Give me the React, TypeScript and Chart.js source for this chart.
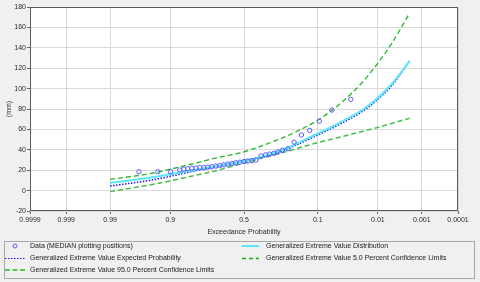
import React, { useEffect, useRef } from 'react';
import { Chart, registerables, LinearScale } from 'chart.js';

// ---------------- data ----------------
const X_TICK_VALUES = [0.9999, 0.999, 0.99, 0.9, 0.5, 0.1, 0.01, 0.001, 0.0001];
const X_TICK_LABELS = ['0.9999', '0.999', '0.99', '0.9', '0.5', '0.1', '0.01', '0.001', '0.0001'];
const Y_MIN = -20;
const Y_MAX = 180;
const Y_STEP = 20;

const CURVE_PROBS = [0.99, 0.95, 0.9, 0.8, 0.7, 0.5, 0.3, 0.2, 0.1, 0.05, 0.02, 0.01, 0.005, 0.002];
const GEV_DISTRIBUTION = [7.5, 12.5, 16, 20.5, 23.5, 29, 37, 44, 56, 66, 79, 91, 105, 127];
const GEV_EXPECTED = [4.5, 10, 14, 19.5, 23, 29, 36, 43, 54.5, 64.5, 77.5, 89.5, 103.5, 127];
const GEV_CONF_05 = [11, 16.5, 21, 27, 31.5, 38, 48.5, 56, 69, 84, 106, 125, 145, 174];
const GEV_CONF_95 = [-1, 5.5, 9.5, 15, 19, 27, 35, 40, 47, 52, 58, 62, 66, 71];

const DATA_PROBS = [0.966, 0.933, 0.899, 0.868, 0.852, 0.836, 0.818, 0.799, 0.779, 0.758, 0.736, 0.712,
  0.688, 0.663, 0.637, 0.611, 0.584, 0.557, 0.529, 0.5, 0.474, 0.446, 0.419, 0.384, 0.354, 0.329,
  0.302, 0.278, 0.253, 0.223, 0.192, 0.159, 0.127, 0.0955, 0.0634, 0.0317];
const DATA_VALUES = [18.5, 18.5, 18.5, 20.2, 21, 21.5, 22, 22, 22.5, 22.5, 23, 23.4,
  24, 24.5, 25.3, 26, 26.5, 27.2, 27.8, 28.5, 29, 29.3, 30, 34, 35, 35.8,
  36.6, 37.8, 39.5, 41, 47.5, 54.5, 59, 68, 79, 89.5];

// ---------------- probability (normal) scale ----------------
function normInv(p: number): number {
  const a = [-3.969683028665376e1, 2.209460984245205e2, -2.759285104469687e2, 1.38357751867269e2, -3.066479806614716e1, 2.506628277459239];
  const b = [-5.447609879822406e1, 1.615858368580409e2, -1.556989798598866e2, 6.680131188771972e1, -1.328068155288572e1];
  const c = [-7.784894002430293e-3, -3.223964580411365e-1, -2.400758277161838, -2.549732539343734, 4.374664141464968, 2.938163982698783];
  const d = [7.784695709041462e-3, 3.224671290700398e-1, 2.445134137142996, 3.754408661907416];
  const pl = 0.02425;
  if (p < pl) {
    const q = Math.sqrt(-2 * Math.log(p));
    return (((((c[0] * q + c[1]) * q + c[2]) * q + c[3]) * q + c[4]) * q + c[5]) / ((((d[0] * q + d[1]) * q + d[2]) * q + d[3]) * q + 1);
  }
  if (p <= 1 - pl) {
    const q = p - 0.5;
    const r = q * q;
    return ((((((a[0] * r + a[1]) * r + a[2]) * r + a[3]) * r + a[4]) * r + a[5]) * q) / (((((b[0] * r + b[1]) * r + b[2]) * r + b[3]) * r + b[4]) * r + 1);
  }
  const q = Math.sqrt(-2 * Math.log(1 - p));
  return -(((((c[0] * q + c[1]) * q + c[2]) * q + c[3]) * q + c[4]) * q + c[5]) / ((((d[0] * q + d[1]) * q + d[2]) * q + d[3]) * q + 1);
}

const Z_EDGE = normInv(1 - 0.0001);

class ProbabilityScale extends (LinearScale as any) {
  static id = 'probability';
  static defaults = {};
  determineDataLimits() {
    this.min = -Z_EDGE;
    this.max = Z_EDGE;
  }
  buildTicks() {
    this.min = -Z_EDGE;
    this.max = Z_EDGE;
    return X_TICK_VALUES.map((v) => ({ value: v }));
  }
  getPixelForValue(value: number) {
    if (value === null || value === undefined) return NaN;
    return super.getPixelForValue(normInv(1 - value));
  }
}

Chart.register(...registerables, ProbabilityScale as any);

const FONT = 'Liberation Sans, Arial, sans-serif';
const TEXT = '#2a2a2a';

const bgPlugin = {
  id: 'bgFrame',
  beforeDraw(chart: any) {
    const { ctx, chartArea: a, width, height } = chart;
    ctx.save();
    ctx.fillStyle = '#f0f0f0';
    ctx.fillRect(0, 0, width, height);
    ctx.fillStyle = '#ffffff';
    ctx.fillRect(a.left, a.top, a.right - a.left, a.bottom - a.top);
    ctx.restore();
  },
  afterDraw(chart: any) {
    const { ctx, chartArea: a } = chart;
    ctx.save();
    ctx.strokeStyle = '#5a5a5a';
    ctx.lineWidth = 1;
    ctx.strokeRect(a.left + 0.5, a.top + 0.5, a.right - a.left - 1, a.bottom - a.top - 1);
    ctx.restore();
  },
};

const pts = (probs: number[], vals: number[]) => probs.map((p, i) => ({ x: p, y: vals[i] }));

function Legend() {
  const text: React.CSSProperties = {
    position: 'absolute', fontFamily: FONT, fontSize: 7, color: '#1a1a1a', lineHeight: '10px', whiteSpace: 'nowrap',
  };
  const rows = [246, 258, 270];
  return (
    <>
      <div style={{ position: 'absolute', left: 4, top: 241, width: 471, height: 38, border: '1px solid #a8a8a8', boxSizing: 'border-box' }} />
      <svg width={480} height={282} style={{ position: 'absolute', left: 0, top: 0, pointerEvents: 'none' }}>
        <circle cx={15} cy={rows[0]} r={2} fill="none" stroke="#5c5cff" strokeWidth={1} />
        <line x1={5} x2={25} y1={rows[1] + 0.5} y2={rows[1] + 0.5} stroke="#1a1aff" strokeWidth={1.2} strokeDasharray="1.5 1.5" />
        <line x1={5} x2={25} y1={rows[2]} y2={rows[2]} stroke="#55c855" strokeWidth={2} strokeDasharray="5 2.5" />
        <line x1={242} x2={259} y1={rows[0]} y2={rows[0]} stroke="#5ae8f5" strokeWidth={2} />
        <line x1={242} x2={259} y1={rows[1] + 0.5} y2={rows[1] + 0.5} stroke="#10b010" strokeWidth={1.3} strokeDasharray="4 3" />
      </svg>
      <div style={{ ...text, left: 30, top: rows[0] - 5 }}>Data (MEDIAN plotting positions)</div>
      <div style={{ ...text, left: 30, top: rows[1] - 5 }}>Generalized Extreme Value Expected Probability</div>
      <div style={{ ...text, left: 30, top: rows[2] - 5 }}>Generalized Extreme Value 95.0 Percent Confidence Limits</div>
      <div style={{ ...text, left: 266, top: rows[0] - 5 }}>Generalized Extreme Value Distribution</div>
      <div style={{ ...text, left: 266, top: rows[1] - 5 }}>Generalized Extreme Value 5.0 Percent Confidence Limits</div>
    </>
  );
}

export default function App() {
  const ref = useRef<HTMLCanvasElement>(null);
  useEffect(() => {
    document.body.style.margin = '0';
    const axisFont = { family: FONT, size: 7 };
    const grid = { color: '#d9d9d9', lineWidth: 1, tickLength: 3, tickColor: '#666666' };
    const chart = new Chart(ref.current as HTMLCanvasElement, {
      type: 'scatter',
      data: {
        datasets: [
          {
            label: 'Data (MEDIAN plotting positions)',
            data: pts(DATA_PROBS, DATA_VALUES),
            showLine: false,
            pointRadius: 2.2,
            pointBorderWidth: 1,
            pointBorderColor: '#5c5cff',
            pointBackgroundColor: 'rgba(0,0,0,0)',
            pointStyle: 'circle',
          },
          {
            label: 'Generalized Extreme Value Distribution',
            data: pts(CURVE_PROBS, GEV_DISTRIBUTION),
            showLine: true,
            borderColor: '#5ae8f5',
            borderWidth: 2,
            pointRadius: 0,
            cubicInterpolationMode: 'monotone',
          },
          {
            label: 'Generalized Extreme Value Expected Probability',
            data: pts(CURVE_PROBS, GEV_EXPECTED),
            showLine: true,
            borderColor: '#1a1aff',
            borderWidth: 1.5,
            borderDash: [1.5, 1.5],
            pointRadius: 0,
            cubicInterpolationMode: 'monotone',
          },
          {
            label: 'Generalized Extreme Value 5.0 Percent Confidence Limits',
            data: pts(CURVE_PROBS, GEV_CONF_05),
            showLine: true,
            borderColor: '#22b822',
            borderWidth: 1.3,
            borderDash: [5, 3],
            pointRadius: 0,
            cubicInterpolationMode: 'monotone',
          },
          {
            label: 'Generalized Extreme Value 95.0 Percent Confidence Limits',
            data: pts(CURVE_PROBS, GEV_CONF_95),
            showLine: true,
            borderColor: '#44c044',
            borderWidth: 1.5,
            borderDash: [5, 3],
            pointRadius: 0,
            cubicInterpolationMode: 'monotone',
          },
        ],
      },
      options: {
        animation: false,
        responsive: false,
        events: [],
        layout: { padding: { left: 0, top: 7, right: 22, bottom: 42 } },
        plugins: { legend: { display: false }, tooltip: { enabled: false } },
        scales: {
          x: {
            type: 'probability' as any,
            position: 'bottom',
            afterFit: (s: any) => { s.height = 29; },
            grid,
            border: { display: false },
            ticks: {
              autoSkip: false, maxRotation: 0, padding: 2, font: axisFont, color: TEXT,
              callback: (_v: any, i: number) => X_TICK_LABELS[i],
            },
            title: { display: true, text: 'Exceedance Probability', font: axisFont, color: TEXT, padding: { top: 0, bottom: 4 } },
          } as any,
          y: {
            type: 'linear',
            min: Y_MIN,
            max: Y_MAX,
            afterFit: (s: any) => { s.width = 30; },
            grid,
            border: { display: false },
            ticks: { stepSize: Y_STEP, padding: 1, font: axisFont, color: TEXT },
            title: { display: true, text: '(mm)', font: axisFont, color: TEXT, padding: { top: 5, bottom: 0 } },
          },
        },
      },
      plugins: [bgPlugin],
    } as any);
    return () => chart.destroy();
  }, []);
  return (
    <div style={{ position: 'absolute', left: 0, top: 0, width: 480, height: 282, background: '#f0f0f0' }}>
      <canvas ref={ref} width={480} height={282} style={{ display: 'block' }} />
      <Legend />
    </div>
  );
}
